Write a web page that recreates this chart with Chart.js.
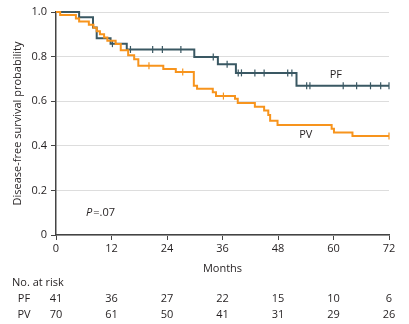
<!DOCTYPE html>
<html>
<head>
<meta charset="utf-8">
<script src="https://cdn.jsdelivr.net/npm/chart.js@4"></script>
<style>
  html, body { margin: 0; padding: 0; background: #fff; }
  #wrap { width: 409px; height: 324px; position: relative; }
</style>
</head>
<body>
<div id="wrap"><canvas id="c" width="409" height="324"></canvas></div>
<script>
// ---- Data ----
const xTicks = [0, 12, 24, 36, 48, 60, 72];

// PF: event times (months) and survival after each step
const pfTimes = [0, 5.0, 8.0, 8.8, 11.8, 15.3, 29.9, 35.0, 38.9, 52.0, 72];
const pfSurv  = [1.0, 0.976, 0.931, 0.882, 0.858, 0.832, 0.798, 0.766, 0.727, 0.669, 0.669];
const pfCensor = [12.2, 16.1, 20.9, 23.0, 27.0, 34.0, 37.0, 39.4, 40.1, 43.0, 45.0, 50.1, 51.0, 54.2, 54.9, 62.1, 65.0, 68.0, 70.2, 72.0];

// PV
const pvTimes = [0, 0.9, 4.3, 5.0, 7.1, 8.1, 8.8, 9.5, 10.4, 11.1, 12.9, 14.0, 15.6, 16.9, 17.8, 23.2, 25.9, 29.8, 30.5, 33.9, 34.6, 38.7, 39.3, 43.0, 45.0, 45.9, 46.3, 47.9, 59.6, 60.1, 64.1, 72];
const pvSurv  = [1.0, 0.986, 0.971, 0.957, 0.943, 0.929, 0.914, 0.900, 0.886, 0.871, 0.857, 0.829, 0.806, 0.788, 0.759, 0.744, 0.731, 0.669, 0.656, 0.640, 0.623, 0.611, 0.592, 0.575, 0.558, 0.538, 0.512, 0.493, 0.477, 0.460, 0.444, 0.444];
const pvCensor = [20.1, 27.4, 36.2, 72.0];

const riskGroups = ["PF", "PV"];
const riskPF = [41, 36, 27, 22, 15, 10, 6];
const riskPV = [70, 61, 50, 41, 31, 29, 26];

const pText = ".07";

// ---- helpers ----
function stepValue(times, surv, t) {
  let v = surv[0];
  for (let i = 0; i < times.length; i++) { if (times[i] <= t) v = surv[i]; }
  return v;
}
function toPoints(times, surv) { return times.map((t, i) => ({ x: t, y: surv[i] })); }
function censorPoints(cens, times, surv) { return cens.map(t => ({ x: t, y: stepValue(times, surv, t) })); }

const PF_COLOR = '#3a5863';
const PV_COLOR = '#f7941d';
const TXT = '#231f20';
const FONT = "'Open Sans', sans-serif";

const textPlugin = {
  id: 'texts',
  afterDraw(chart) {
    const ctx = chart.ctx;
    const xs = chart.scales.x, ys = chart.scales.y;
    ctx.save();
    ctx.fillStyle = TXT;
    ctx.font = "11px " + FONT;
    ctx.textBaseline = 'middle';
    // curve labels
    ctx.textAlign = 'center';
    ctx.fillText("PF", xs.getPixelForValue(60.5), ys.getPixelForValue(0.717));
    ctx.fillText("PV", xs.getPixelForValue(54.0), ys.getPixelForValue(0.448));
    // p value
    ctx.textAlign = 'left';
    ctx.font = "italic 11px " + FONT;
    const px = xs.getPixelForValue(6.5), py = ys.getPixelForValue(0.098);
    ctx.fillText("P", px, py);
    const pw = ctx.measureText("P").width;
    ctx.font = "11px " + FONT;
    ctx.fillText("=" + pText, px + pw + 1, py);
    // at-risk table
    ctx.fillText("No. at risk", 12, 283);
    const rows = [riskPF, riskPV];
    const ys2 = [299, 315];
    rows.forEach((row, r) => {
      ctx.textAlign = 'center';
      ctx.fillText(riskGroups[r], 24, ys2[r]);
      row.forEach((n, i) => {
        ctx.fillText(String(n), xs.getPixelForValue(xTicks[i]), ys2[r]);
      });
    });
    ctx.restore();
  }
};

new Chart(document.getElementById('c'), {
  type: 'scatter',
  data: {
    datasets: [
      { label: 'PV', data: toPoints(pvTimes, pvSurv), showLine: true, stepped: 'before',
        borderColor: PV_COLOR, borderWidth: 2, pointRadius: 0, clip: false },
      { label: 'PV censored', data: censorPoints(pvCensor, pvTimes, pvSurv), showLine: false,
        pointStyle: 'line', rotation: 90, pointRadius: 3.5, borderColor: PV_COLOR, borderWidth: 1.2, clip: false },
      { label: 'PF', data: toPoints(pfTimes, pfSurv), showLine: true, stepped: 'before',
        borderColor: PF_COLOR, borderWidth: 2, pointRadius: 0, clip: false },
      { label: 'PF censored', data: censorPoints(pfCensor, pfTimes, pfSurv), showLine: false,
        pointStyle: 'line', rotation: 90, pointRadius: 3.5, borderColor: PF_COLOR, borderWidth: 1.2, clip: false }
    ]
  },
  options: {
    responsive: false,
    animation: false,
    layout: { padding: { left: 0, right: 20, top: 12, bottom: 49 } },
    plugins: { legend: { display: false }, tooltip: { enabled: false } },
    scales: {
      x: {
        type: 'linear', min: 0, max: 72,
        afterBuildTicks(scale) { scale.ticks = xTicks.map(v => ({ value: v })); },
        afterFit(scale) { scale.height = 40; },
        ticks: { color: TXT, font: { family: FONT, size: 11 }, padding: 2, maxRotation: 0 },
        grid: { drawOnChartArea: false, tickLength: 5, tickColor: '#444', tickWidth: 1 },
        border: { color: '#444', width: 1.5 },
        title: { display: true, text: 'Months', color: TXT, font: { family: FONT, size: 11 }, padding: { top: 2, bottom: 0 } }
      },
      y: {
        type: 'linear', min: 0, max: 1,
        ticks: { stepSize: 0.2, color: TXT, font: { family: FONT, size: 11 }, padding: 4,
          callback: v => (v === 0 ? '0' : v.toFixed(1)) },
        afterFit(scale) { scale.width = 56; },
        grid: { color: '#dddddd', lineWidth: 1, tickLength: 5, tickColor: '#444', tickWidth: 1 },
        border: { color: '#444', width: 1.5 },
        title: { display: true, text: 'Disease-free survival probability', color: TXT, font: { family: FONT, size: 11 }, padding: { top: 11, bottom: 0 } }
      }
    }
  },
  plugins: [textPlugin]
});
</script>
</body>
</html>
